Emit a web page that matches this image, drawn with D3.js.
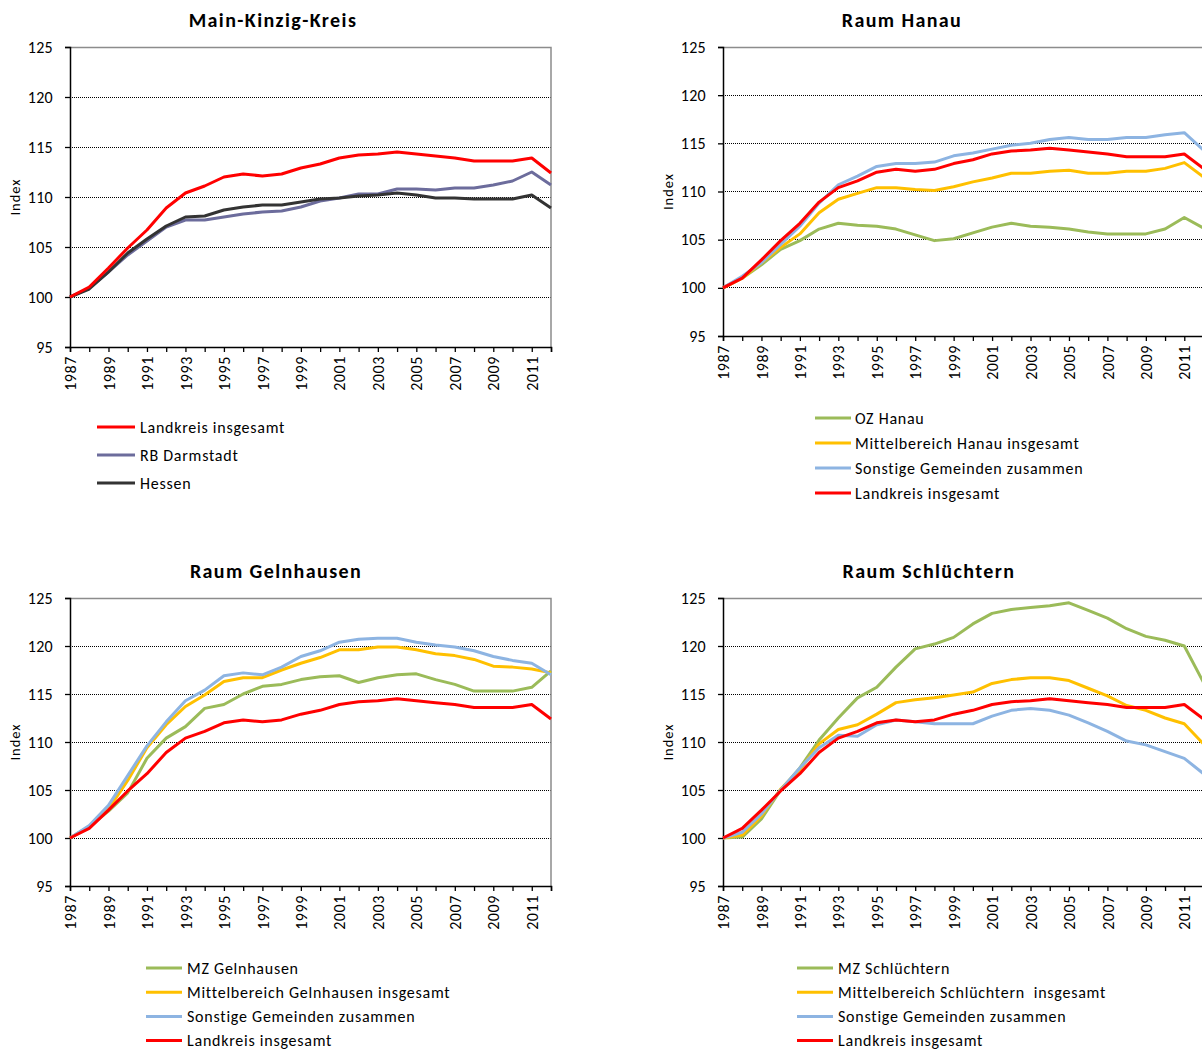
<!DOCTYPE html>
<html>
<head>
<meta charset="utf-8">
<script src="https://cdn.jsdelivr.net/npm/d3@7"></script>
<style>
  html, body { margin: 0; padding: 0; background: #fff; }
  svg { display: block; font-family: Carlito, Lato, "Open Sans", sans-serif; }
</style>
</head>
<body>
<svg id="chart" width="1202" height="1051"></svg>
<script>
// Years of the index series (1987 = 100)
const years = d3.range(1987, 2013);
const yTicks = [95, 100, 105, 110, 115, 120, 125];

// Landkreis insgesamt (shown in every panel)
const landkreis = [100, 101.0, 102.9, 104.9, 106.7, 108.9, 110.4, 111.1, 112.0, 112.3, 112.1, 112.3, 112.9,
  113.3, 113.9, 114.2, 114.3, 114.5, 114.3, 114.1, 113.9, 113.6, 113.6, 113.6, 113.9, 112.4];

// Main-Kinzig-Kreis panel
const rbDarmstadt = [100, 100.9, 102.5, 104.2, 105.6, 107.0, 107.7, 107.7, 108.0, 108.3, 108.5, 108.6, 109.0,
  109.6, 109.9, 110.3, 110.3, 110.8, 110.8, 110.7, 110.9, 110.9, 111.2, 111.6, 112.5, 111.2];
const hessen = [100, 100.8, 102.5, 104.4, 105.8, 107.1, 108.0, 108.1, 108.7, 109.0, 109.2, 109.2, 109.5,
  109.8, 109.9, 110.1, 110.2, 110.4, 110.2, 109.9, 109.9, 109.8, 109.8, 109.8, 110.2, 108.9];

// Raum Hanau panel
const ozHanau = [100, 101.0, 102.4, 104.0, 104.9, 106.1, 106.7, 106.5, 106.4, 106.1, 105.5, 104.9, 105.1,
  105.7, 106.3, 106.7, 106.4, 106.3, 106.1, 105.8, 105.6, 105.6, 105.6, 106.1, 107.3, 106.2];
const mbHanau = [100, 101.0, 102.6, 104.2, 105.6, 107.8, 109.2, 109.8, 110.4, 110.4, 110.2, 110.1, 110.5,
  111.0, 111.4, 111.9, 111.9, 112.1, 112.2, 111.9, 111.9, 112.1, 112.1, 112.4, 113.0, 111.5];
const sonstHanau = [100, 101.2, 102.6, 104.5, 106.4, 108.8, 110.7, 111.6, 112.6, 112.9, 112.9, 113.05, 113.7,
  114.0, 114.4, 114.8, 115.0, 115.4, 115.6, 115.4, 115.4, 115.6, 115.6, 115.9, 116.1, 114.3];

// Raum Gelnhausen panel
const mzGelnhausen = [100, 101.2, 102.8, 104.7, 108.3, 110.4, 111.6, 113.5, 113.9, 115.0, 115.8, 116.0, 116.5,
  116.8, 116.9, 116.2, 116.7, 117.0, 117.1, 116.5, 116.0, 115.3, 115.3, 115.3, 115.7, 117.4];
const mbGelnhausen = [100, 101.2, 103.0, 106.0, 109.4, 111.8, 113.7, 114.9, 116.3, 116.7, 116.7, 117.5, 118.2,
  118.8, 119.6, 119.6, 119.9, 119.9, 119.6, 119.2, 119.0, 118.6, 117.9, 117.8, 117.6, 117.2];
const sonstGelnhausen = [100, 101.3, 103.4, 106.5, 109.6, 112.1, 114.3, 115.4, 116.9, 117.2, 117.0, 117.8, 118.9,
  119.5, 120.4, 120.7, 120.8, 120.8, 120.4, 120.1, 119.9, 119.5, 118.9, 118.5, 118.2, 117.0];

// Raum Schlüchtern panel
const mzSchluechtern = [100, 100.1, 102.0, 105.0, 107.3, 110.2, 112.5, 114.6, 115.7, 117.8, 119.7, 120.2, 120.9,
  122.3, 123.4, 123.8, 124.0, 124.2, 124.5, 123.7, 122.9, 121.8, 121.0, 120.6, 120.0, 116.2];
const mbSchluechtern = [100, 100.3, 102.3, 105.1, 107.1, 109.8, 111.3, 111.8, 112.9, 114.1, 114.4, 114.6, 114.9,
  115.2, 116.1, 116.5, 116.7, 116.7, 116.4, 115.6, 114.8, 113.8, 113.3, 112.5, 111.9, 109.8];
const sonstSchluechtern = [100, 100.6, 102.5, 105.0, 107.3, 109.4, 110.7, 110.6, 111.8, 112.3, 112.1, 111.9, 111.9,
  111.9, 112.7, 113.3, 113.5, 113.3, 112.8, 112.0, 111.1, 110.1, 109.7, 109.0, 108.3, 106.7];

const C = {
  red: "#ff0000", slate: "#6c6c9c", dark: "#333333",
  green: "#9bbb59", orange: "#ffc000", blue: "#8db4e2"
};

const panels = [
  {
    title: "Main-Kinzig-Kreis", titleX: 273, titleY: 27,
    left: 70, right: 551, top: 47, bottom: 347, labelX: 15,
    series: [
      { name: "Landkreis insgesamt", values: landkreis, color: C.red },
      { name: "RB Darmstadt", values: rbDarmstadt, color: C.slate },
      { name: "Hessen", values: hessen, color: C.dark }
    ],
    drawOrder: [1, 2, 0],
    legend: { x1: 97, x2: 135, tx: 140, y0: 427, dy: 28 }
  },
  {
    title: "Raum Hanau", titleX: 902, titleY: 27,
    left: 723, right: 1203.5, top: 47, bottom: 336, labelX: 668,
    series: [
      { name: "OZ Hanau", values: ozHanau, color: C.green },
      { name: "Mittelbereich Hanau insgesamt", values: mbHanau, color: C.orange },
      { name: "Sonstige Gemeinden zusammen", values: sonstHanau, color: C.blue },
      { name: "Landkreis insgesamt", values: landkreis, color: C.red }
    ],
    drawOrder: [0, 1, 2, 3],
    legend: { x1: 815, x2: 851, tx: 855, y0: 418, dy: 25 }
  },
  {
    title: "Raum Gelnhausen", titleX: 276, titleY: 578,
    left: 70, right: 551, top: 598, bottom: 886, labelX: 15,
    series: [
      { name: "MZ Gelnhausen", values: mzGelnhausen, color: C.green },
      { name: "Mittelbereich Gelnhausen insgesamt", values: mbGelnhausen, color: C.orange },
      { name: "Sonstige Gemeinden zusammen", values: sonstGelnhausen, color: C.blue },
      { name: "Landkreis insgesamt", values: landkreis, color: C.red }
    ],
    drawOrder: [0, 1, 2, 3],
    legend: { x1: 146, x2: 182, tx: 187, y0: 968, dy: 24.2 }
  },
  {
    title: "Raum Schlüchtern", titleX: 929, titleY: 578,
    left: 723, right: 1203.5, top: 598, bottom: 886, labelX: 668,
    series: [
      { name: "MZ Schlüchtern", values: mzSchluechtern, color: C.green },
      { name: "Mittelbereich Schlüchtern  insgesamt", values: mbSchluechtern, color: C.orange },
      { name: "Sonstige Gemeinden zusammen", values: sonstSchluechtern, color: C.blue },
      { name: "Landkreis insgesamt", values: landkreis, color: C.red }
    ],
    drawOrder: [0, 1, 2, 3],
    legend: { x1: 797, x2: 833, tx: 838, y0: 968, dy: 24.2 }
  }
];

const svg = d3.select("#chart");

panels.forEach(p => {
  const g = svg.append("g");
  const x = d3.scaleLinear().domain([1987, 2012]).range([p.left, p.right]);
  const y = d3.scaleLinear().domain([95, 125]).range([p.bottom, p.top]);

  // dotted horizontal gridlines
  g.append("g").selectAll("line").data(yTicks.filter(v => v > 95 && v < 125)).join("line")
    .attr("x1", p.left).attr("x2", p.right)
    .attr("y1", d => y(d)).attr("y2", d => y(d))
    .attr("stroke", "#000").attr("stroke-width", 1)
    .attr("stroke-dasharray", "1,1").attr("shape-rendering", "crispEdges");

  // grey plot-area border on top and right
  g.append("path")
    .attr("d", `M${p.left},${y(125) + 0.5}H${p.right}V${p.bottom}`)
    .attr("fill", "none").attr("stroke", "#8c8c8c").attr("stroke-width", 1.5);

  // y axis
  const yAxis = d3.axisLeft(y).tickValues(yTicks).tickSize(5).tickPadding(12);
  const ya = g.append("g").attr("transform", `translate(${p.left},0)`).call(yAxis);
  ya.select(".domain").attr("stroke", "#000").attr("stroke-width", 1.5);
  ya.selectAll(".tick line").attr("stroke", "#000").attr("stroke-width", 1.3);
  ya.selectAll("text").attr("font-size", 16).attr("fill", "#000")
    .attr("font-family", "Carlito, Lato, sans-serif").attr("letter-spacing", 0.3);

  // x axis: tick at every year, label every second year
  const xAxis = d3.axisBottom(x).tickValues(years).tickSize(5)
    .tickFormat(d => (d - 1987) % 2 === 0 ? String(d) : "");
  const xa = g.append("g").attr("transform", `translate(0,${p.bottom})`).call(xAxis);
  xa.select(".domain").attr("stroke", "#000").attr("stroke-width", 1.5);
  xa.selectAll(".tick line").attr("stroke", "#000").attr("stroke-width", 1.3);
  xa.selectAll("text")
    .attr("font-size", 16).attr("fill", "#000").attr("letter-spacing", 0.6)
    .attr("font-family", "Carlito, Lato, sans-serif")
    .attr("transform", "rotate(-90)")
    .attr("text-anchor", "end")
    .attr("x", -9).attr("y", 0).attr("dy", "0.35em");

  // y axis title
  g.append("text")
    .attr("transform", `translate(${p.labelX + 5},${(p.top + p.bottom) / 2}) rotate(-90)`)
    .attr("text-anchor", "middle").attr("font-size", 14.5).attr("letter-spacing", 1)
    .attr("fill", "#000").text("Index");

  // panel title
  g.append("text")
    .attr("x", p.titleX).attr("y", p.titleY)
    .attr("text-anchor", "middle").attr("font-size", 20).attr("font-weight", "bold")
    .attr("letter-spacing", 1.4).attr("fill", "#000").text(p.title);

  // series lines
  const line = d3.line().x((d, i) => x(years[i])).y(d => y(d));
  p.drawOrder.forEach(k => {
    const s = p.series[k];
    g.append("path").datum(s.values)
      .attr("d", line).attr("fill", "none")
      .attr("stroke", s.color).attr("stroke-width", 3)
      .attr("stroke-linejoin", "round");
  });

  // legend
  const lg = g.append("g");
  p.series.forEach((s, i) => {
    const yy = p.legend.y0 + i * p.legend.dy;
    lg.append("line").attr("x1", p.legend.x1).attr("x2", p.legend.x2)
      .attr("y1", yy).attr("y2", yy).attr("stroke", s.color).attr("stroke-width", 3);
    lg.append("text").attr("x", p.legend.tx).attr("y", yy).attr("dy", "0.35em")
      .attr("font-size", 16).attr("letter-spacing", 0.75)
      .attr("fill", "#000").attr("xml:space", "preserve")
      .style("white-space", "pre").text(s.name);
  });
});
</script>
</body>
</html>
